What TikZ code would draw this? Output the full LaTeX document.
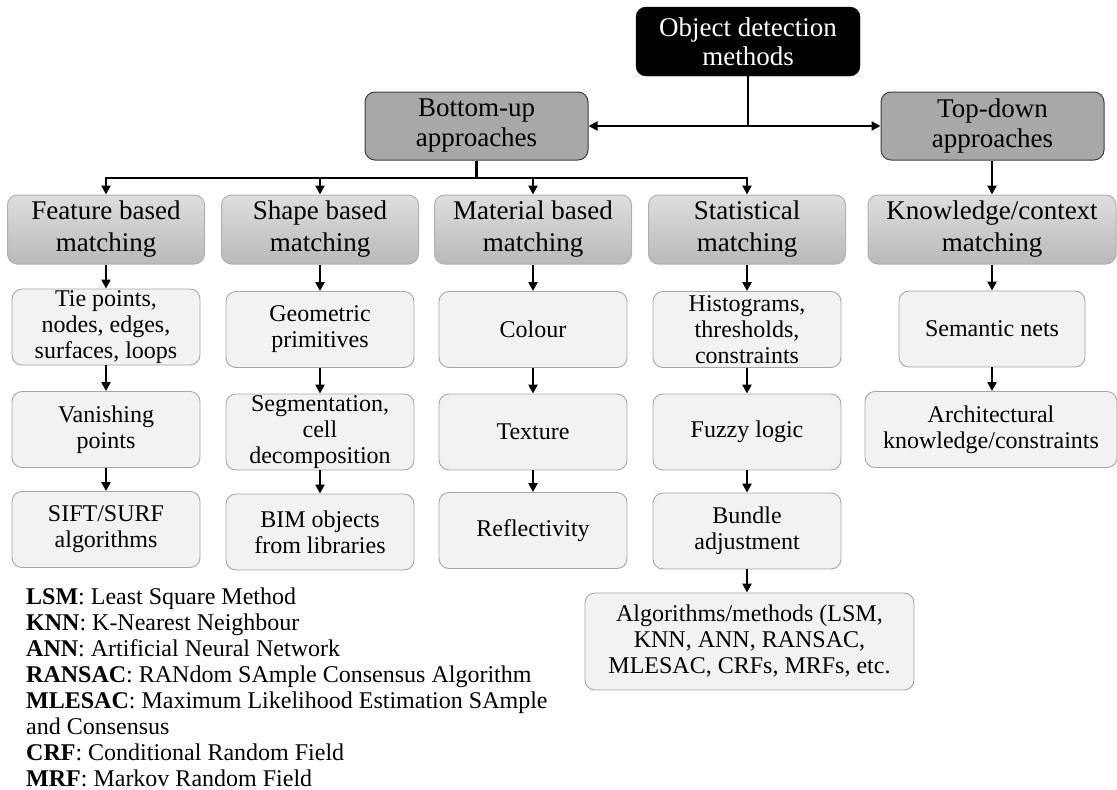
\documentclass[tikz,border=0pt]{standalone}
\usepackage{fontspec}
\setmainfont{Liberation Serif}
\usetikzlibrary{arrows.meta}
\definecolor{leaffill}{HTML}{F2F2F2}
\definecolor{leafdraw}{HTML}{A6A6A6}
\definecolor{midfill}{HTML}{A8A8A8}
\definecolor{middraw}{HTML}{3F3F3F}
\definecolor{cattop}{HTML}{DEDEDE}
\definecolor{catbot}{HTML}{B9B9B9}
\definecolor{catdraw}{HTML}{B0B0B0}
\begin{document}
\begin{tikzpicture}[x=1pt,y=-1pt,
 base/.style={rounded corners=10pt, align=center, inner sep=0pt},
 rootbox/.style={base, fill=black, draw=black, text=white, font=\fontsize{27}{29}\selectfont, minimum width=224pt, minimum height=69pt},
 midbox/.style={base, fill=midfill, draw=middraw, line width=1pt, font=\fontsize{27}{30}\selectfont, minimum width=223pt, minimum height=68pt},
 catbox/.style={base, top color=cattop, bottom color=catbot, draw=catdraw, line width=1pt, font=\fontsize{27}{32}\selectfont, minimum width=197pt, minimum height=69pt},
 leafbox/.style={base, fill=leaffill, draw=leafdraw, line width=0.9pt, font=\fontsize{24}{26}\selectfont, minimum width=188pt, minimum height=76pt},
 conn/.style={line width=2.3pt},
 arr/.style={conn, -{Triangle[length=9pt,width=9pt]}},
 legend/.style={anchor=base west, inner sep=0pt, font=\fontsize{24}{26}\selectfont}
]
\useasboundingbox (0,0) rectangle (1117,790);

% top levels
\node[rootbox] (root) at (748,41.5) {Object detection\\methods};
\node[midbox] (bu) at (476.5,126) {Bottom-up\\approaches};
\node[midbox] (td) at (992.5,126) {Top-down\\approaches};

% categories
\node[catbox] (feat) at (106,229.5) {Feature based\\matching};
\node[catbox] (shape) at (320,229.5) {Shape based\\matching};
\node[catbox] (mat) at (533,229.5) {Material based\\matching};
\node[catbox] (stat) at (747,229.5) {Statistical\\matching};
\node[catbox, minimum width=248pt] (know) at (992,229.5) {Knowledge/context\\matching};

% leaves
\node[leafbox] (tie) at (106,327) {Tie points,\\nodes, edges,\\surfaces, loops};
\node[leafbox] (van) at (106,429.5) {Vanishing\\points};
\node[leafbox] (sift) at (106,529.5) {SIFT/SURF\\algorithms};

\node[leafbox] (geo) at (320,329.5) {Geometric\\primitives};
\node[leafbox] (seg) at (320,432) {Segmentation,\\cell\\decomposition};
\node[leafbox] (bim) at (320,532) {BIM objects\\from libraries};

\node[leafbox] (colour) at (533,329.5) {Colour};
\node[leafbox] (tex) at (533,432) {Texture};
\node[leafbox] (refl) at (533,530.5) {Reflectivity};

\node[leafbox] (hist) at (747,329.5) {Histograms,\\thresholds,\\constraints};
\node[leafbox] (fuzzy) at (747,432) {Fuzzy logic};
\node[leafbox] (bundle) at (747,531) {Bundle\\adjustment};
\node[leafbox, minimum width=329pt, minimum height=97pt] (algo) at (749.5,641.5) {Algorithms/methods (LSM,\\KNN, ANN, RANSAC,\\MLESAC, CRFs, MRFs, etc.};

\node[leafbox, minimum width=186pt] (sem) at (992,329) {Semantic nets};
\node[leafbox, minimum width=252pt] (arch) at (991,429.5) {Architectural\\knowledge/constraints};

% connectors
\draw[arr] (root.south) |- (bu.east);
\draw[arr] (root.south) |- (td.west);

\coordinate (bj) at (476.5,178);
\draw[conn] (bu.south) -- (bj);
\draw[arr] (bj) -| (feat.north);
\draw[arr] (bj) -| (shape.north);
\draw[arr] (bj) -| (mat.north);
\draw[arr] (bj) -| (stat.north);
\draw[arr] (td.south -| know.north) -- (know.north);

\draw[arr] (feat.south) -- (tie.north);
\draw[arr] (tie.south) -- (van.north);
\draw[arr] (van.south) -- (sift.north);

\draw[arr] (shape.south) -- (geo.north);
\draw[arr] (geo.south) -- (seg.north);
\draw[arr] (seg.south) -- (bim.north);

\draw[arr] (mat.south) -- (colour.north);
\draw[arr] (colour.south) -- (tex.north);
\draw[arr] (tex.south) -- (refl.north);

\draw[arr] (stat.south) -- (hist.north);
\draw[arr] (hist.south) -- (fuzzy.north);
\draw[arr] (fuzzy.south) -- (bundle.north);
\draw[arr] (bundle.south) -- (bundle.south |- algo.north);

\draw[arr] (know.south -| sem.north) -- (sem.north);
\draw[arr] (sem.south) -- (sem.south |- arch.north);

% legend
\node[legend] (lg1) at (26,604) {\textbf{LSM}: Least Square Method};
\node[legend] (lg2) at (26,630) {\textbf{KNN}: K-Nearest Neighbour};
\node[legend] (lg3) at (26,656) {\textbf{ANN}: Artificial Neural Network};
\node[legend] (lg4) at (26,682) {\textbf{RANSAC}: RANdom SAmple Consensus Algorithm};
\node[legend] (lg5) at (26,708) {\textbf{MLESAC}: Maximum Likelihood Estimation SAmple};
\node[legend] (lg6) at (26,734) {and Consensus};
\node[legend] (lg7) at (26,760) {\textbf{CRF}: Conditional Random Field};
\node[legend] (lg8) at (26,786) {\textbf{MRF}: Markov Random Field};
\end{tikzpicture}
\end{document}
